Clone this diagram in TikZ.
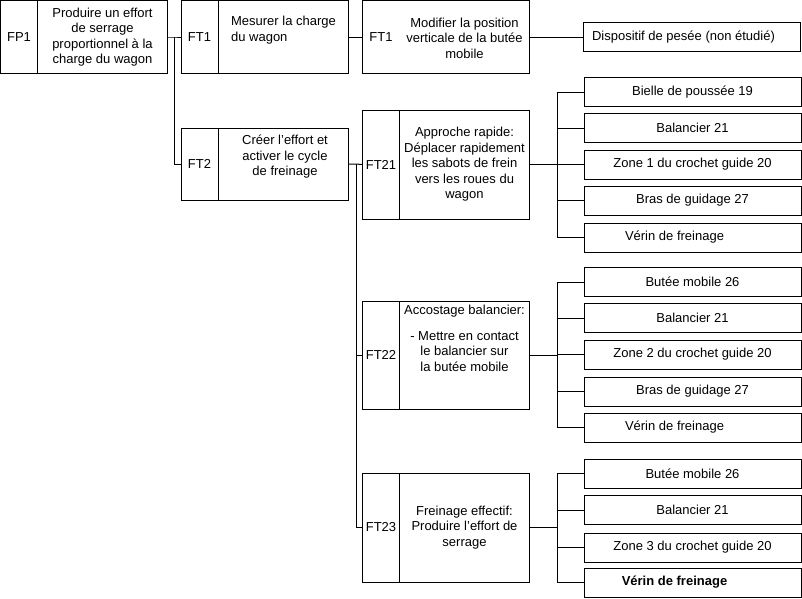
\documentclass[tikz,border=0pt]{standalone}
\usepackage{fontspec}
\setmainfont{Liberation Sans}
\tikzset{
    bloc/.style={draw, line width=1pt, inner sep=1pt, align=center},
    code/.style={bloc, minimum width=37pt},
    descr/.style={bloc, minimum width=130pt},
    comp/.style={bloc, minimum width=217pt, minimum height=29pt},
    lien/.style={line width=1pt},
  }
\begin{document}
\begin{tikzpicture}[x=1pt,y=-1pt,font=\fontsize{13}{15.5}\selectfont]
	\useasboundingbox (0,0) rectangle (802,598);
	
	%FP1
	\node[code, minimum height=73pt] (FP1) at (19,37) {FP1};
	\node[descr, minimum height=73pt] (FP1d) at (102.5,37) {Produire un effort\\de serrage\\proportionnel à la\\charge du wagon};
	
	%FT1 et FT2
	\node[code, minimum height=73pt] (FT1) at (199.5,37) {FT1};
	\node[descr, minimum height=73pt] (FT1d) at (283.5,37) {};
	\node[align=left] (FT1t) at (283.5,30) {Mesurer la charge\\du wagon};
	\node[code, minimum height=72pt] (FT2) at (199.5,164) {FT2};
	\node[descr, minimum height=72pt] (FT2d) at (283.5,164) {};
	\node[align=center] (FT2t) at (285,157) {Créer l'effort et\\activer le cycle\\de freinage};
	\coordinate (j0) at (174,37);
	\draw[lien] (FP1d.east) -- (j0) -- (FT1.west);
	\draw[lien] (j0) |- (FT2.west);
	
	%FT1 position butée
	\node[bloc, minimum width=167pt, minimum height=73pt] (FT1b) at (445.5,37) {};
	\node (FT1bc) at (381,37) {FT1};
	\node[align=center] (FT1bt) at (464.5,38) {Modifier la position\\verticale de la butée\\mobile};
	\node[comp] (pesee) at (692,37) {Dispositif de pesée (non étudié)\hspace*{17pt}};
	\draw[lien] (FT1d.east) -- (FT1b.west);
	\draw[lien] (FT1b.east) -- (pesee.west);
	
	%FT21 FT22 FT23
	\node[code, minimum height=109pt] (FT21) at (381,164.5) {FT21};
	\node[descr, minimum height=109pt] (FT21d) at (464.5,164.5) {Approche rapide:\\Déplacer rapidement\\les sabots de frein\\vers les roues du\\wagon};
	\node[code, minimum height=108pt] (FT22) at (381,355) {FT22};
	\node[descr, minimum height=108pt] (FT22d) at (464.5,355) {};
	\node[anchor=north, align=center] (FT22t) at (464.5,302) {Accostage balancier:\\[10pt]- Mettre en contact\\le balancier sur\\la butée mobile};
	\node[code, minimum height=109pt] (FT23) at (381,527.5) {FT23};
	\node[descr, minimum height=109pt] (FT23d) at (464.5,527.5) {Freinage effectif:\\Produire l'effort de\\serrage};
	\coordinate (j1) at (356,164);
	\draw[lien] (FT2d.east) -- (j1) -- (FT21.west);
	\draw[lien] (j1) |- (FT22.west);
	\draw[lien] (j1) |- (FT23.west);
	
	%composants FT21
	\node[comp] (c211) at (692.5,92) {Bielle de poussée 19};
	\node[comp] (c212) at (692.5,128) {Balancier 21};
	\node[comp] (c213) at (692.5,164.5) {Zone 1 du crochet guide 20};
	\node[comp] (c214) at (692.5,200.5) {Bras de guidage 27};
	\node[comp] (c215) at (692.5,237.5) {Vérin de freinage\hspace*{36pt}};
	\coordinate (j21) at (557,164.5);
	\draw[lien] (FT21d.east) -- (j21);
	\foreach \n in {1,...,5} \draw[lien] (j21) |- (c21\n.west);
	
	%composants FT22
	\node[comp] (c221) at (692.5,282) {Butée mobile 26};
	\node[comp] (c222) at (692.5,318) {Balancier 21};
	\node[comp] (c223) at (692.5,354.5) {Zone 2 du crochet guide 20};
	\node[comp] (c224) at (692.5,391.5) {Bras de guidage 27};
	\node[comp] (c225) at (692.5,427.5) {Vérin de freinage\hspace*{36pt}};
	\coordinate (j22) at (557,355);
	\draw[lien] (FT22d.east) -- (j22);
	\foreach \n in {1,...,5} \draw[lien] (j22) |- (c22\n.west);
	
	%composants FT23
	\node[comp] (c231) at (692.5,473.5) {Butée mobile 26};
	\node[comp] (c232) at (692.5,510) {Balancier 21};
	\node[comp] (c233) at (692.5,547.5) {Zone 3 du crochet guide 20};
	\node[comp] (c234) at (692.5,582.5) {\bfseries Vérin de freinage\hspace*{36pt}};
	\coordinate (j23) at (557,527.5);
	\draw[lien] (FT23d.east) -- (j23);
	\foreach \n in {1,...,4} \draw[lien] (j23) |- (c23\n.west);
\end{tikzpicture}
\end{document}
